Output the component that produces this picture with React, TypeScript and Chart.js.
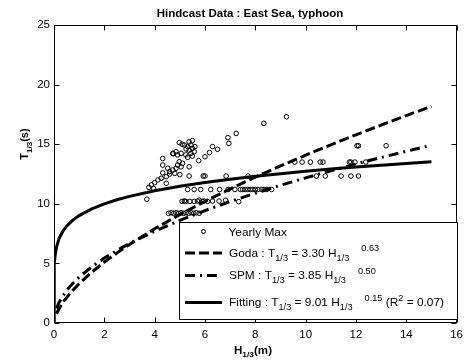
import React, { useEffect, useRef } from "react";
import { Chart, registerables } from "chart.js";
Chart.register(...registerables);

// Yearly maximum observations (H1/3 in m, T1/3 in s)
const H_OBS = [
  4.98, 5.09, 5.18, 5.37, 5.5, 5.44, 5.31, 5.5, 5.37, 5.57, 5.44, 5.24, 5.5, 5.31, 5.05, 4.91, 4.72, 4.85, 5.6, 5.25,
  5.75, 6.0, 6.18, 6.3, 6.5, 6.91, 6.95, 7.24, 8.34, 9.24,
  4.74, 4.32, 4.32, 4.98, 5.11, 4.91, 5.05, 4.85, 4.72, 4.59, 4.52, 4.32, 4.46, 4.26, 4.13, 4.0, 3.87, 3.77, 3.69, 5.37, 4.46, 4.6, 4.8, 5.0, 3.95,
  5.37, 5.93, 6.0, 6.84, 7.71, 10.43, 10.78, 11.41, 11.8, 12.1,
  9.57, 9.86, 10.19, 10.58, 10.69, 11.74, 11.8, 11.96, 12.39,
  12.04, 12.1, 13.2,
  5.31, 5.57, 5.83, 6.23, 6.58, 6.92, 7.19, 7.41, 7.5, 7.6, 7.7, 7.8, 7.9, 8.0, 8.1, 8.26, 8.35, 8.46, 8.65,
  5.09, 5.18, 5.24, 5.4, 5.57, 5.7, 5.77, 5.9, 5.96, 6.1, 6.3, 6.56, 6.82, 7.34,
  4.55, 4.65, 4.75, 4.85, 4.95, 5.05, 5.15, 5.25, 5.35, 5.45, 5.55, 5.65, 5.77,
];
const T_OBS = [
  15.13, 15.0, 14.93, 15.2, 15.3, 14.93, 14.8, 14.65, 14.5, 14.37, 14.23, 14.1, 14.0, 13.9, 14.23, 14.1, 14.23, 14.37, 14.8, 14.6,
  13.62, 13.95, 14.3, 14.8, 14.57, 15.55, 15.07, 15.9, 16.75, 17.3,
  14.2, 13.8, 13.25, 13.53, 13.4, 13.25, 13.1, 12.98, 12.84, 12.7, 12.98, 12.6, 12.27, 12.14, 12.0, 11.77, 11.58, 11.38, 10.38, 13.1, 11.72, 12.5, 12.55, 12.45, 11.3,
  12.33, 12.33, 12.33, 12.33, 12.33, 12.33, 12.33, 12.33, 12.33, 12.33,
  13.5, 13.5, 13.5, 13.5, 13.5, 13.5, 13.5, 13.5, 13.5,
  14.87, 14.87, 14.87,
  11.2, 11.2, 11.2, 11.2, 11.2, 11.2, 11.2, 11.2, 11.2, 11.2, 11.2, 11.2, 11.2, 11.2, 11.2, 11.2, 11.2, 11.2, 11.2,
  10.2, 10.23, 10.2, 10.2, 10.2, 10.23, 10.3, 10.2, 10.23, 10.2, 10.23, 10.23, 10.3, 10.18,
  9.2, 9.25, 9.2, 9.25, 9.2, 9.25, 9.2, 9.25, 9.2, 9.25, 9.2, 9.25, 9.2,
];

// Curve sample positions and the fitted relations T = a * H^b (from the legend)
const CURVE_H = [0, 0.001, 0.003, 0.01, 0.02, 0.05, 0.1, 0.2, 0.35, 0.5, 0.75, 1, 1.5, 2, 2.5, 3, 4, 5, 6, 7, 8, 9, 10, 11, 12, 13, 14, 15];
const GODA_COEF = [3.3, 0.63];
const SPM_COEF = [3.85, 0.5];
const FIT_COEF = [9.01, 0.15];

const X_TICKS = [0, 2, 4, 6, 8, 10, 12, 14, 16];
const Y_TICKS = [0, 5, 10, 15, 20, 25];

const TITLE = "Hindcast Data : East Sea, typhoon";
const FONT = "'Liberation Sans', Arial, Helvetica, sans-serif";

type Part = { t: string; size: number; dy?: number; bold?: boolean; gap?: number };

function drawRich(ctx: CanvasRenderingContext2D, x: number, y: number, parts: Part[], measureOnly = false, hs = 1) {
  let cx = 0;
  ctx.save();
  ctx.translate(x, y);
  ctx.scale(hs, 1);
  for (const p of parts) {
    if (p.gap) cx += p.gap / hs;
    ctx.font = `${p.bold ? "bold " : ""}${p.size}px ${FONT}`;
    if (!measureOnly) ctx.fillText(p.t, cx, p.dy || 0);
    cx += ctx.measureText(p.t).width;
  }
  ctx.restore();
  return cx * hs;
}

function curve(coef: number[], minH: number) {
  return CURVE_H.filter((h) => h >= minH).map((h) => ({ x: h, y: coef[0] * Math.pow(h, coef[1]) }));
}

const decorPlugin = {
  id: "decor",
  afterDraw(chart: any) {
    const ctx: CanvasRenderingContext2D = chart.ctx;
    const { left, right, top, bottom } = chart.chartArea;
    const xs = chart.scales.x;
    const ys = chart.scales.y;
    ctx.save();
    ctx.strokeStyle = "#000";
    ctx.fillStyle = "#000";
    ctx.lineWidth = 1;
    ctx.setLineDash([]);
    // axes box
    const L = Math.round(left) + 0.5, R = Math.round(right) - 0.5, T = Math.round(top) + 0.5, B = Math.round(bottom) - 0.5;
    ctx.strokeRect(L, T, R - L, B - T);
    // inward ticks
    ctx.beginPath();
    xs.ticks.forEach((t: any) => {
      const px = Math.round(xs.getPixelForValue(t.value)) + 0.5;
      ctx.moveTo(px, B); ctx.lineTo(px, B - 5);
      ctx.moveTo(px, T); ctx.lineTo(px, T + 5);
    });
    ys.ticks.forEach((t: any) => {
      const py = Math.round(ys.getPixelForValue(t.value)) + 0.5;
      ctx.moveTo(L, py); ctx.lineTo(L + 5, py);
      ctx.moveTo(R, py); ctx.lineTo(R - 5, py);
    });
    ctx.stroke();

    // title
    ctx.textBaseline = "alphabetic";
    ctx.textAlign = "left";
    ctx.font = `bold 11.5px ${FONT}`;
    const tw = ctx.measureText(TITLE).width;
    ctx.fillText(TITLE, 250 - tw / 2, 17);

    // x axis title
    const xParts: Part[] = [
      { t: "H", size: 11, bold: true },
      { t: "1/3", size: 8, bold: true, dy: 3.5 },
      { t: "(m)", size: 11, bold: true },
    ];
    const xw = drawRich(ctx, 0, 0, xParts, true, 1.05);
    drawRich(ctx, 253 - xw / 2, 353.5, xParts, false, 1.05);

    // y axis title (rotated)
    const yParts: Part[] = [
      { t: "T", size: 11, bold: true },
      { t: "1/3", size: 8, bold: true, dy: 3.5 },
      { t: "(s)", size: 11, bold: true },
    ];
    const yw = drawRich(ctx, 0, 0, yParts, true);
    ctx.save();
    ctx.translate(28, 144);
    ctx.rotate(-Math.PI / 2);
    drawRich(ctx, -yw / 2, 0, yParts);
    ctx.restore();

    // legend
    const bx = 179.5, by = 222.5, bw = 278, bh = 97;
    ctx.fillStyle = "#fff";
    ctx.fillRect(bx, by, bw, bh);
    ctx.strokeStyle = "#000";
    ctx.lineWidth = 1;
    ctx.strokeRect(bx, by, bw, bh);
    ctx.fillStyle = "#000";

    const HS = 1.08;
    const ds = chart.data.datasets;
    // Yearly Max marker
    ctx.beginPath();
    ctx.arc(203.5, 231.5, 2, 0, Math.PI * 2);
    ctx.stroke();
    drawRich(ctx, 228.5, 235.5, [{ t: ds[0].label, size: 11 }], false, HS);

    const rows: { y: number; ds: any; parts: Part[] }[] = [
      {
        y: 256.5, ds: ds[1], parts: [
          { t: "Goda : T", size: 11 }, { t: "1/3", size: 8.5, dy: 4 }, { t: " = 3.30 H", size: 11 },
          { t: "1/3", size: 8.5, dy: 4 }, { t: "0.63", size: 8.5, dy: -5.5, gap: 12 },
        ],
      },
      {
        y: 279, ds: ds[2], parts: [
          { t: "SPM : T", size: 11 }, { t: "1/3", size: 8.5, dy: 4 }, { t: " = 3.85 H", size: 11 },
          { t: "1/3", size: 8.5, dy: 4 }, { t: "0.50", size: 8.5, dy: -5.5, gap: 12 },
        ],
      },
      {
        y: 306, ds: ds[3], parts: [
          { t: "Fitting : T", size: 11 }, { t: "1/3", size: 8.5, dy: 4 }, { t: " = 9.01 H", size: 11 },
          { t: "1/3", size: 8.5, dy: 4 }, { t: "0.15", size: 8.5, dy: -5.5, gap: 12 },
          { t: " (R", size: 11 }, { t: "2", size: 8.5, dy: -5.5 }, { t: " = 0.07)", size: 11 },
        ],
      },
    ];
    rows.forEach((r) => {
      ctx.save();
      ctx.lineWidth = r.ds.borderWidth;
      ctx.setLineDash(r.ds.borderDash || []);
      ctx.beginPath();
      ctx.moveTo(185, r.y - 3.5);
      ctx.lineTo(222, r.y - 3.5);
      ctx.stroke();
      ctx.restore();
      drawRich(ctx, 229, r.y, r.parts, false, HS);
    });
    ctx.restore();
  },
};

export default function App() {
  const ref = useRef<HTMLCanvasElement>(null);
  useEffect(() => {
    document.body.style.margin = "0";
    const canvas = ref.current!;
    const chart = new Chart(canvas, {
      type: "scatter",
      data: {
        datasets: [
          {
            label: "Yearly Max",
            data: H_OBS.map((h, i) => ({ x: h, y: T_OBS[i] })),
            pointStyle: "circle",
            pointRadius: 2.3,
            borderWidth: 1,
            borderColor: "#000",
            backgroundColor: "rgba(0,0,0,0)",
            showLine: false,
          } as any,
          {
            type: "line",
            label: "Goda",
            data: curve(GODA_COEF, 0.1),
            borderColor: "#000",
            borderWidth: 3,
            borderDash: [10, 4],
            pointRadius: 0,
            fill: false,
            tension: 0,
          } as any,
          {
            type: "line",
            label: "SPM",
            data: curve(SPM_COEF, 0.1),
            borderColor: "#000",
            borderWidth: 3,
            borderDash: [10, 5, 2, 5],
            pointRadius: 0,
            fill: false,
            tension: 0,
          } as any,
          {
            type: "line",
            label: "Fitting",
            data: curve(FIT_COEF, 0),
            borderColor: "#000",
            borderWidth: 3,
            pointRadius: 0,
            fill: false,
            tension: 0,
          } as any,
        ],
      },
      options: {
        animation: false,
        responsive: false,
        devicePixelRatio: 1,
        layout: { padding: { top: 25, right: 8, left: 0, bottom: 0 } },
        plugins: { legend: { display: false }, title: { display: false }, tooltip: { enabled: false } },
        scales: {
          x: {
            type: "linear",
            min: 0,
            max: 16,
            afterBuildTicks: (s: any) => { s.ticks = X_TICKS.map((v) => ({ value: v })); },
            afterFit: (s: any) => { s.height = 38; },
            grid: { display: false, drawTicks: false },
            border: { display: false },
            ticks: { padding: 5, color: "#000", font: { size: 11.5, family: FONT }, maxRotation: 0 },
          },
          y: {
            type: "linear",
            min: 0,
            max: 25,
            afterBuildTicks: (s: any) => { s.ticks = Y_TICKS.map((v) => ({ value: v })); },
            afterFit: (s: any) => { s.width = 54; },
            grid: { display: false, drawTicks: false },
            border: { display: false },
            ticks: { padding: 4, color: "#000", font: { size: 11.5, family: FONT } },
          },
        },
      },
      plugins: [decorPlugin],
    });
    return () => chart.destroy();
  }, []);
  return (
    <div style={{ width: 468, height: 361 }}>
      <canvas ref={ref} width={468} height={361} />
    </div>
  );
}
